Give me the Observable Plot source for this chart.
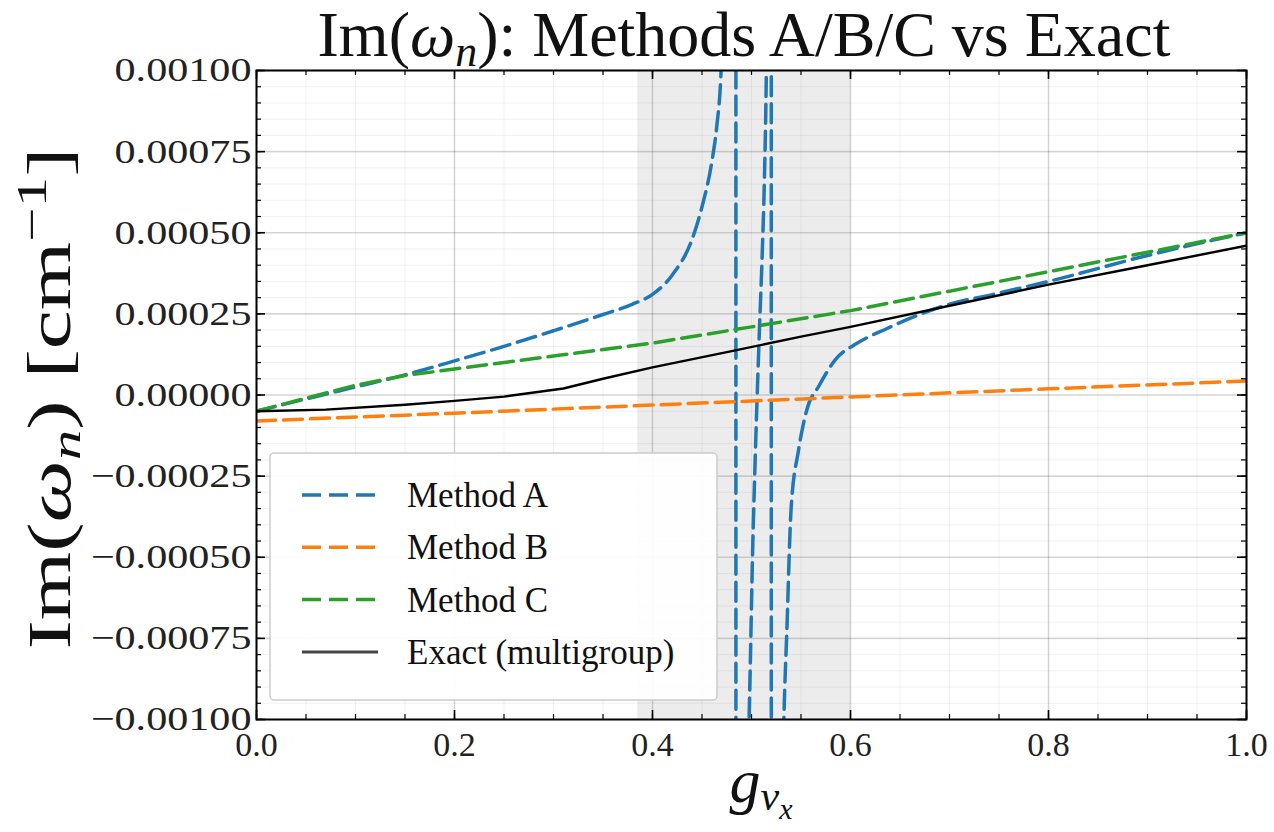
<!DOCTYPE html>
<html><head><meta charset="utf-8">
<script src="https://cdn.jsdelivr.net/npm/d3@7"></script>
<script src="https://cdn.jsdelivr.net/npm/@observablehq/plot@0.6"></script>
<style>
body{margin:0;background:#fff;}
#chart{position:relative;width:1274px;height:832px;}
</style>
</head><body><div id="chart"></div>
<script>
// ---- Data ----
const seriesNames = ["Method A", "Method B", "Method C", "Exact (multigroup)"];
const seriesColors = ["#1f77b4", "#ff7f0e", "#2ca02c", "#000000"];

const methodA_g = [0, 0.05, 0.1, 0.15, 0.2, 0.25, 0.3, 0.35, 0.38, 0.4, 0.42, 0.44, 0.45, 0.46, 0.465, 0.469, 0.474, 0.479, 0.483, 0.484,
  0.4845, 0.488, 0.492, 0.495, 0.497, 0.499, 0.501, 0.504, 0.508, 0.511, 0.513, 0.515, 0.517, 0.519, 0.5198,
  0.5202, 0.524, 0.528, 0.532, 0.536, 0.54, 0.5475, 0.5555, 0.5685, 0.585, 0.607, 0.637, 0.663, 0.7, 0.744, 0.8, 0.9, 1.0];
const methodA_im = [-0.00005, -0.000012, 0.000025, 0.000062, 0.000105, 0.00015, 0.000198, 0.000248, 0.00028, 0.00031, 0.00037, 0.00048, 0.00058, 0.00072, 0.00083, 0.00098, 0.0015, 0.003, 0.01, 0.05,
  -0.05, -0.006, -0.0025, -0.0016, -0.0011, -0.0008, -0.0005, -0.00017, 0.0002, 0.00045, 0.00066, 0.001, 0.0017, 0.005, 0.05,
  -0.05, -0.006, -0.002, -0.0011, -0.0007, -0.00035, -0.00017, -0.00005, 0.00003, 0.00011, 0.00016, 0.000205, 0.00024, 0.00028, 0.00031, 0.00035, 0.00043, 0.0005];

const methodB_g = [0, 0.2, 0.4, 0.6, 0.8, 1.0];
const methodB_im = [-0.00008, -0.000056, -0.000031, -0.000006, 0.000019, 0.000043];

const methodC_g = [0, 0.05, 0.1, 0.15, 0.2, 0.3, 0.4, 0.5, 0.6, 0.7, 0.8, 0.9, 1.0];
const methodC_im = [-0.00005, -0.00001, 0.00003, 0.00006, 0.00008, 0.00012, 0.00016, 0.00021, 0.00026, 0.00032, 0.00038, 0.00044, 0.0005];

const exact_g = [0, 0.07, 0.15, 0.2, 0.25, 0.31, 0.35, 0.4, 0.48, 0.55, 0.6, 0.7, 0.8, 0.9, 1.0];
const exact_im = [-0.00005, -0.000045, -0.00003, -0.000018, -0.000005, 0.00002, 0.00005, 0.000085, 0.000135, 0.00018, 0.00021, 0.000275, 0.00034, 0.0004, 0.00046];

const shadedBand = [0.385, 0.6];
const xTicks = [0, 0.2, 0.4, 0.6, 0.8, 1.0];
const xMinorTicks = d3.range(0, 1.0001, 0.05);
const yTicks = [-0.001, -0.00075, -0.0005, -0.00025, 0, 0.00025, 0.0005, 0.00075, 0.001];
const yMinorTicks = d3.range(-0.001, 0.0010001, 0.00005);

const titleText = "Methods A/B/C vs Exact";

// ---- Build table ----
function rows(name, xs, ys) { return xs.map((g, i) => ({series: name, g, im: ys[i]})); }
const dataA = rows(seriesNames[0], methodA_g, methodA_im);
const dataB = rows(seriesNames[1], methodB_g, methodB_im);
const dataC = rows(seriesNames[2], methodC_g, methodC_im);
const dataE = rows(seriesNames[3], exact_g, exact_im);

const W = 1274, H = 832;
const mL = 256, mR = 28, mT = 70, mB = 113;
const frameH = H - mT - mB, frameW = W - mL - mR;
const font = "Liberation Serif, Times New Roman, serif";
const dash = "19,8";
const yFmt = d3.format(".5f");

const plot = Plot.plot({
  width: W, height: H,
  marginLeft: mL, marginRight: mR, marginTop: mT, marginBottom: mB,
  style: {fontFamily: font, background: "#fff", overflow: "visible"},
  x: {domain: [0, 1]},
  y: {domain: [-0.001, 0.001]},
  marks: [
    Plot.gridX(xMinorTicks, {stroke: "#000", strokeOpacity: 0.06, strokeWidth: 1}),
    Plot.gridY(yMinorTicks, {stroke: "#000", strokeOpacity: 0.06, strokeWidth: 1}),
    Plot.gridX(xTicks, {stroke: "#000", strokeOpacity: 0.13, strokeWidth: 1.6}),
    Plot.gridY(yTicks, {stroke: "#000", strokeOpacity: 0.13, strokeWidth: 1.6}),
    Plot.rect([shadedBand], {x1: d => d[0], x2: d => d[1], fill: "#808080", fillOpacity: 0.15}),
    Plot.line(dataA, {x: "g", y: "im", stroke: seriesColors[0], strokeWidth: 3.5, strokeDasharray: dash, curve: "monotone-x", clip: true}),
    Plot.line(dataB, {x: "g", y: "im", stroke: seriesColors[1], strokeWidth: 3.5, strokeDasharray: dash, clip: true}),
    Plot.line(dataC, {x: "g", y: "im", stroke: seriesColors[2], strokeWidth: 3.5, strokeDasharray: dash, clip: true}),
    Plot.line(dataE, {x: "g", y: "im", stroke: seriesColors[3], strokeWidth: 2.4, clip: true}),
    // inward ticks
    Plot.tickX(xTicks, {x: d => d, insetTop: frameH - 9, stroke: "#000", strokeWidth: 1.6}),
    Plot.tickX(xTicks, {x: d => d, insetBottom: frameH - 9, stroke: "#000", strokeWidth: 1.6}),
    Plot.tickX(xMinorTicks, {x: d => d, insetTop: frameH - 5, stroke: "#000", strokeWidth: 1.2}),
    Plot.tickX(xMinorTicks, {x: d => d, insetBottom: frameH - 5, stroke: "#000", strokeWidth: 1.2}),
    Plot.tickY(yTicks, {y: d => d, insetRight: frameW - 9, stroke: "#000", strokeWidth: 1.6}),
    Plot.tickY(yTicks, {y: d => d, insetLeft: frameW - 9, stroke: "#000", strokeWidth: 1.6}),
    Plot.tickY(yMinorTicks, {y: d => d, insetRight: frameW - 5, stroke: "#000", strokeWidth: 1.2}),
    Plot.tickY(yMinorTicks, {y: d => d, insetLeft: frameW - 5, stroke: "#000", strokeWidth: 1.2}),
    Plot.frame({stroke: "#000", strokeWidth: 2}),
    Plot.axisX(xTicks, {tickSize: 0, tickPadding: 12, tickFormat: d3.format(".1f"), fontSize: 34, label: null, fill: "#222"}),
    Plot.axisY(yTicks, {tickSize: 0, tickPadding: 5, tickFormat: yFmt, fontSize: 34, label: null, fill: "#222"})
  ]
});

document.getElementById("chart").appendChild(plot);
const svg = d3.select(plot);
// widen y tick labels to match the reference's typeface width (anchored at their right end)
const yLabelSet = new Set(yTicks.map(yFmt));
svg.selectAll("text").each(function () {
  if (!yLabelSet.has(this.textContent.trim())) return;
  const tr = this.getAttribute("transform") || "";
  this.setAttribute("transform", `${tr} scale(1.24,1)`);
});
const xs = plot.scale("x"), ys = plot.scale("y");
const cx = (xs.apply(0) + xs.apply(1)) / 2;
const cy = (ys.apply(-0.001) + ys.apply(0.001)) / 2;

// Title
const t = svg.append("text").attr("x", cx - 7).attr("y", 56).attr("text-anchor", "middle")
  .attr("font-family", font).attr("font-size", 64).attr("fill", "#111");
t.append("tspan").text("Im(");
t.append("tspan").attr("font-style", "italic").text("ω");
t.append("tspan").attr("font-style", "italic").attr("font-size", 44).attr("dy", 10).text("n");
t.append("tspan").attr("dy", -10).text("): " + titleText);

// Y label
const yl = svg.append("text").attr("transform", `translate(70,${cy + 4}) rotate(-90) scale(1.42,1)`).attr("text-anchor", "middle")
  .attr("font-family", font).attr("font-size", 62).attr("fill", "#111");
yl.append("tspan").text("Im(");
yl.append("tspan").attr("font-style", "italic").text("ω");
yl.append("tspan").attr("font-style", "italic").attr("font-size", 43).attr("dy", 10).text("n");
yl.append("tspan").attr("dy", -10).text(") [cm");
yl.append("tspan").attr("font-size", 43).attr("dy", -24).text("−1");
yl.append("tspan").attr("dy", 24).text("]");

// X label
const xl = svg.append("text").attr("x", cx + 10).attr("y", 802).attr("text-anchor", "middle")
  .attr("font-family", font).attr("font-size", 62).attr("fill", "#111").attr("font-style", "italic");
xl.append("tspan").text("g");
xl.append("tspan").attr("font-size", 42).attr("dy", 8).text("ν");
xl.append("tspan").attr("font-size", 30).attr("dy", 9).text("x");

// Legend
const lg = svg.append("g").attr("transform", `translate(${mL + 14},${mT + 383})`);
lg.append("rect").attr("width", 447).attr("height", 247).attr("rx", 4)
  .attr("fill", "#fff").attr("fill-opacity", 0.92).attr("stroke", "#cccccc").attr("stroke-width", 1.5);
seriesNames.forEach((name, i) => {
  const yy = 42 + i * 52.3;
  const ln = lg.append("line").attr("x1", 32).attr("x2", 108).attr("y1", yy).attr("y2", yy)
    .attr("stroke", seriesColors[i]).attr("stroke-width", i === 3 ? 3 : 3.5);
  if (i !== 3) ln.attr("stroke-dasharray", dash);
  else ln.attr("stroke", "#444");
  lg.append("text").attr("x", 137).attr("y", yy + 12).attr("text-anchor", "start").attr("font-family", font)
    .attr("font-size", 35).attr("fill", "#111").text(name);
});
</script>
</body></html>
